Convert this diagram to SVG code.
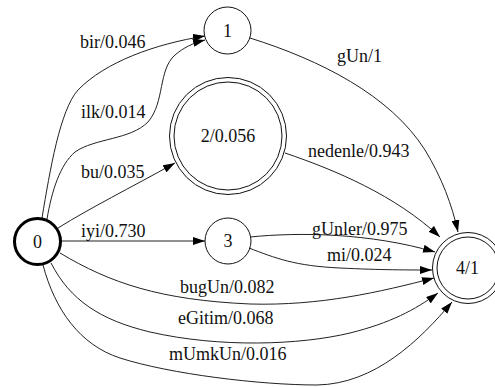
<svg xmlns="http://www.w3.org/2000/svg" width="495" height="387" viewBox="0 0 495 387" font-family="'Liberation Serif', 'Times New Roman', serif" font-size="18">
<style>
.n{fill:none;stroke:#111;stroke-width:1}
.e{fill:none;stroke:#222;stroke-width:1;marker-end:url(#ah)}
text{font-family:'Liberation Serif',serif;font-size:18px;fill:#111}
.c{text-anchor:middle}
</style>
<defs>
<marker id="ah" viewBox="0 0 12 8" refX="12" refY="4" markerWidth="12" markerHeight="8" markerUnits="userSpaceOnUse" orient="auto">
<path d="M0,0 L12,4 L0,8 z" fill="#000"/>
</marker>
</defs>
<rect width="495" height="387" fill="#fff"/>
<g id="edges">
<path class="e" d="M42,218 C50,170 60,110 78,90 C105,62 155,44 205,36"/>
<path class="e" d="M47,219 C52,190 60,165 75,152 C95,138 130,140 148,122 C165,102 158,70 175,55 C183,48 193,43 205,40"/>
<path class="e" d="M58,228 C90,208 130,188 175,163"/>
<path class="e" d="M61,241 L205,241"/>
<path class="e" d="M60,253 C110,283 160,300 250,304 C320,306 380,292 434,278"/>
<path class="e" d="M51,263 C70,300 100,320 150,332 C220,348 300,345 350,333 C390,323 415,310 438,293"/>
<path class="e" d="M43,265 C55,310 80,345 120,358 C170,374 260,385 317,385 C375,384 420,340 452,302"/>
<path class="e" d="M250,38 C320,60 390,95 425,150 C442,178 452,205 458,232"/>
<path class="e" d="M285,153 C335,170 395,195 440,237"/>
<path class="e" d="M250,237 C300,232 370,233 435,252"/>
<path class="e" d="M249,248 C275,258 295,266 340,268 C380,270 410,270 432,270"/>
<text x="80" y="48">bir/0.046</text>
<text x="81" y="118">ilk/0.014</text>
<text x="81" y="178">bu/0.035</text>
<text x="81" y="237">iyi/0.730</text>
<text x="180" y="293">bugUn/0.082</text>
<text x="178" y="324">eGitim/0.068</text>
<text x="169" y="360">mUmkUn/0.016</text>
<text x="337" y="62">gUn/1</text>
<text x="308" y="157">nedenle/0.943</text>
<text x="312" y="235">gUnler/0.975</text>
<text x="327" y="261">mi/0.024</text>
</g>
<g id="node0">
<circle cx="37.5" cy="241.5" r="23" fill="none" stroke="#000" stroke-width="3"/>
<text class="c" x="37.5" y="247.5">0</text>
</g>
<g id="node1">
<circle class="n" cx="227.5" cy="30.5" r="23.5"/>
<text class="c" x="227.5" y="36.5">1</text>
</g>
<g id="node2">
<circle class="n" cx="228" cy="136" r="58.5"/>
<circle class="n" cx="228" cy="136" r="54"/>
<text class="c" x="228" y="142">2/0.056</text>
</g>
<g id="node3">
<circle class="n" cx="228" cy="241" r="23"/>
<text class="c" x="228" y="247">3</text>
</g>
<g id="node4">
<circle class="n" cx="468" cy="268" r="35.5"/>
<circle class="n" cx="468" cy="268" r="31"/>
<text class="c" x="467.5" y="274">4/1</text>
</g>
</svg>
